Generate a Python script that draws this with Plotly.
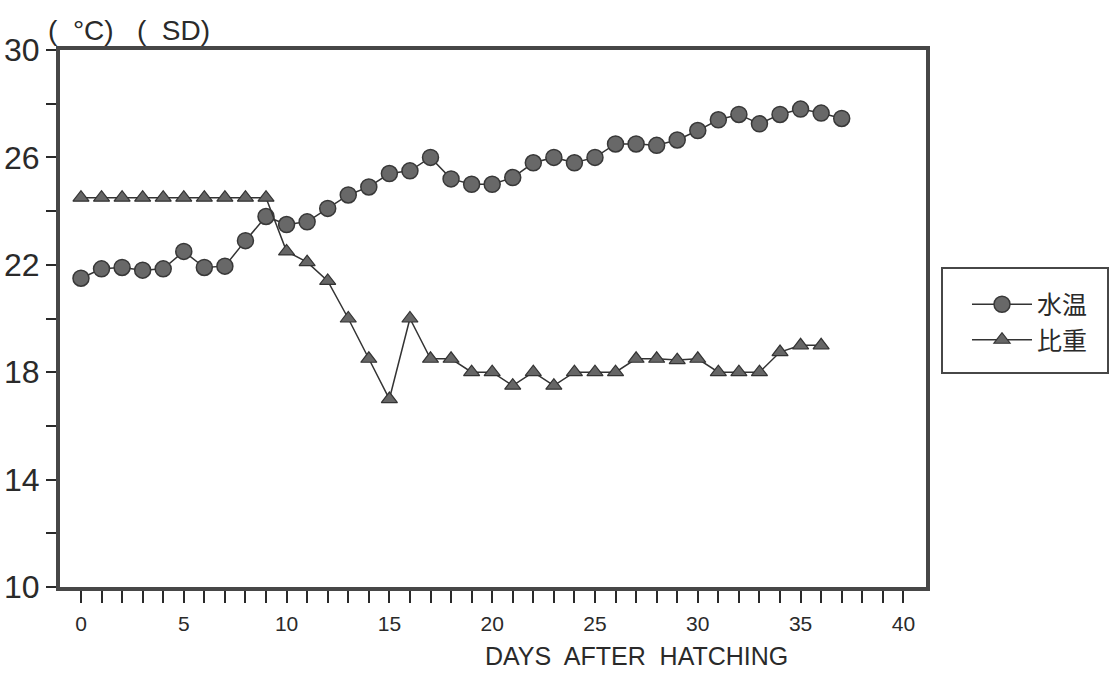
import plotly.graph_objects as go

# ---- data ----
days_temp = list(range(0, 38))
water_temp = [21.5, 21.85, 21.9, 21.8, 21.85, 22.5, 21.9, 21.95, 22.9, 23.8,
              23.5, 23.6, 24.1, 24.6, 24.9, 25.4, 25.5, 26.0, 25.2, 25.0,
              25.0, 25.25, 25.8, 26.0, 25.8, 26.0, 26.5, 26.5, 26.45, 26.65,
              27.0, 27.4, 27.6, 27.25, 27.6, 27.8, 27.65, 27.45]

days_sd = list(range(0, 37))
specific_gravity = [24.5, 24.5, 24.5, 24.5, 24.5, 24.5, 24.5, 24.5, 24.5, 24.5,
                    22.5, 22.1, 21.4, 20.0, 18.5, 17.0, 20.0, 18.5, 18.5, 18.0,
                    18.0, 17.5, 18.0, 17.5, 18.0, 18.0, 18.0, 18.5, 18.5, 18.45,
                    18.5, 18.0, 18.0, 18.0, 18.75, 19.0, 19.0]

series_names = ["水温", "比重"]
x_tick_vals = list(range(0, 41))
x_tick_text = [str(v) if v % 5 == 0 else "" for v in x_tick_vals]
y_tick_vals = list(range(10, 31, 2))
y_tick_text = [str(v) if (v - 10) % 4 == 0 else "" for v in y_tick_vals]

FONT = "Liberation Sans, Arial, sans-serif"
INK = "#2a2a2a"
FRAME = "#474747"

fig = go.Figure()
fig.add_trace(go.Scatter(
    x=days_temp, y=water_temp, mode="lines+markers", name=series_names[0],
    line=dict(color="#333333", width=1.5),
    marker=dict(symbol="circle", size=16, color="#686868",
                line=dict(color="#383838", width=1.5)),
))
fig.add_trace(go.Scatter(
    x=days_sd, y=specific_gravity, mode="lines+markers", name=series_names[1],
    line=dict(color="#333333", width=1.5),
    marker=dict(symbol="triangle-up", size=14, color="#666666",
                line=dict(color="#333333", width=1.2)),
))

L, R, T, B = 60, 185, 50, 86
W, H = 1111, 673
pw, ph = W - L - R, H - T - B

def px_x(px):
    return (px - L) / pw

def px_y(py):
    return (H - B - py) / ph

fig.update_layout(
    width=W, height=H,
    margin=dict(l=L, r=R, t=T, b=B, autoexpand=False),
    paper_bgcolor="white", plot_bgcolor="white",
    font=dict(family=FONT, color=INK),
    showlegend=True,
    legend=dict(
        xref="container", yref="container",
        x=967 / W, y=(H - 322) / H, xanchor="left", yanchor="middle",
        bgcolor="rgba(0,0,0,0)", borderwidth=0,
        font=dict(family="Noto Sans CJK JP, sans-serif", size=25, color=INK),
        itemwidth=60,
    ),
    xaxis=dict(
        range=[-1.02, 41.1], automargin=False,
        tickmode="array", tickvals=x_tick_vals, ticktext=x_tick_text,
        ticks="outside", ticklen=12, tickwidth=1.5, tickcolor=INK,
        tickfont=dict(size=21, color=INK, family=FONT),
        ticklabelstandoff=3,
        showgrid=False, zeroline=False,
        showline=True, linecolor=FRAME, linewidth=4, mirror=True,
    ),
    yaxis=dict(
        range=[10, 30], automargin=False,
        tickmode="array", tickvals=y_tick_vals, ticktext=y_tick_text,
        ticks="outside", ticklen=10, tickwidth=1.5, tickcolor=INK,
        tickfont=dict(size=32, color=INK, family=FONT),
        showgrid=False, zeroline=False,
        showline=True, linecolor=FRAME, linewidth=4, mirror=True,
    ),
)

# legend frame
fig.add_shape(type="rect", xref="paper", yref="paper",
              x0=px_x(942), x1=px_x(1108), y0=px_y(373), y1=px_y(268),
              line=dict(color=FRAME, width=2), fillcolor="rgba(0,0,0,0)")

# y-axis unit label
fig.add_annotation(text="(  °C)   (  SD)", xref="paper", yref="paper",
                   x=px_x(46), y=px_y(30), xanchor="left", yanchor="middle",
                   showarrow=False, font=dict(size=28, color=INK, family=FONT))

# x-axis title
fig.add_annotation(text="DAYS  AFTER  HATCHING", xref="paper", yref="paper",
                   x=px_x(636), y=px_y(656), xanchor="center", yanchor="middle",
                   borderpad=0,
                   showarrow=False, font=dict(size=25, color=INK, family=FONT))

fig.write_html("out.html")
